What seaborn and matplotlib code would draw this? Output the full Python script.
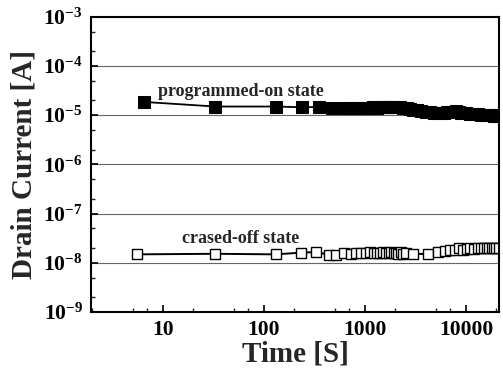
import numpy as np
import pandas as pd
import matplotlib
matplotlib.use("Agg")
import matplotlib.pyplot as plt
import matplotlib.ticker as mticker
import seaborn as sns

# programmed-on state
on_time = [6.5, 33, 130, 240, 350, 470,
           600, 700, 800, 900, 1000, 1100, 1200, 1300, 1400, 1500, 1600, 1700,
           1800, 1900, 2000, 2200, 2400, 2600, 2800, 3000, 3300, 3600, 4000,
           4400, 4800, 5200, 5600, 6000, 6500, 7000, 7500, 8000, 8500, 9000,
           9500, 10000, 11000, 12000, 13000, 14000, 15000, 16000, 17000, 18000,
           19000, 20000, 21000]
on_current = [1.86e-5, 1.5e-5, 1.5e-5, 1.45e-5, 1.47e-5, 1.42e-5,
              1.40e-5, 1.40e-5, 1.41e-5, 1.42e-5, 1.42e-5, 1.43e-5, 1.44e-5, 1.43e-5, 1.44e-5, 1.45e-5, 1.46e-5, 1.46e-5,
              1.47e-5, 1.48e-5, 1.48e-5, 1.47e-5, 1.43e-5, 1.38e-5, 1.33e-5, 1.29e-5, 1.25e-5, 1.21e-5, 1.17e-5,
              1.14e-5, 1.13e-5, 1.12e-5, 1.12e-5, 1.13e-5, 1.15e-5, 1.17e-5, 1.18e-5, 1.19e-5, 1.16e-5, 1.13e-5,
              1.11e-5, 1.10e-5, 1.08e-5, 1.06e-5, 1.04e-5, 1.03e-5, 1.02e-5, 1.01e-5, 1.00e-5, 0.99e-5,
              0.98e-5, 0.96e-5, 0.95e-5]

# erased-off state
off_time = [5.5, 33, 130, 230, 330, 440, 520,
            620, 720, 820, 920, 1020, 1120, 1220, 1320, 1420, 1520, 1620, 1720,
            1820, 1920, 2020, 2120, 2250, 2400, 2550, 3000, 4200, 5300, 6200,
            7000, 7800, 8600, 9400, 10200, 11000, 12000, 13000, 14000, 15000,
            16000, 17000, 18000, 19000, 20000, 21000]
off_current = [1.48e-8, 1.52e-8, 1.48e-8, 1.6e-8, 1.65e-8, 1.45e-8, 1.45e-8,
               1.58e-8, 1.52e-8, 1.55e-8, 1.56e-8, 1.6e-8, 1.62e-8, 1.58e-8, 1.6e-8, 1.56e-8, 1.62e-8, 1.55e-8, 1.58e-8,
               1.62e-8, 1.55e-8, 1.6e-8, 1.52e-8, 1.62e-8, 1.48e-8, 1.58e-8, 1.52e-8, 1.5e-8, 1.68e-8, 1.72e-8,
               1.8e-8, 1.85e-8, 1.95e-8, 1.85e-8, 1.9e-8, 1.95e-8, 1.92e-8, 1.98e-8, 1.95e-8, 2.0e-8,
               1.96e-8, 2.02e-8, 1.98e-8, 2.0e-8, 1.97e-8, 1.95e-8]

x_ticks = [10, 100, 1000, 10000]
x_labels = ["10", "100", "1000", "10000"]
y_ticks = [1e-9, 1e-8, 1e-7, 1e-6, 1e-5, 1e-4, 1e-3]
y_labels = [r"$10^{-9}$", r"$10^{-8}$", r"$10^{-7}$", r"$10^{-6}$",
            r"$10^{-5}$", r"$10^{-4}$", r"$10^{-3}$"]

sns.set_theme(style="ticks")
plt.rcParams["font.family"] = ["Liberation Serif", "DejaVu Serif"]
plt.rcParams["font.weight"] = "bold"
plt.rcParams["mathtext.fontset"] = "custom"
plt.rcParams["mathtext.rm"] = "Liberation Serif:bold"
plt.rcParams["mathtext.it"] = "Liberation Serif:bold"
plt.rcParams["mathtext.bf"] = "Liberation Serif:bold"

fig = plt.figure(figsize=(5.03, 3.74), dpi=100)
ax = fig.add_axes([0.181, 0.166, 0.811, 0.789])

on_df = pd.DataFrame({"time": on_time, "current": on_current})
off_df = pd.DataFrame({"time": off_time, "current": off_current})

sns.lineplot(data=on_df, x="time", y="current", ax=ax, color="black", lw=1.3,
             marker="s", markersize=8.5, markerfacecolor="black",
             markeredgecolor="black", estimator=None, sort=False)
sns.lineplot(data=off_df, x="time", y="current", ax=ax, color="black", lw=1.4,
             marker="s", markersize=6.5, markerfacecolor="white",
             markeredgecolor="black", markeredgewidth=1.0,
             estimator=None, sort=False)

ax.set_xscale("log")
ax.set_yscale("log")
ax.set_xlim(1.94, 21200)
ax.set_ylim(1e-9, 1e-3)

ax.set_xticks(x_ticks)
ax.set_xticklabels(x_labels)
ax.xaxis.set_minor_locator(mticker.LogLocator(base=10, subs=(2, 5, 7)))
ax.xaxis.set_minor_formatter(mticker.NullFormatter())
ax.set_yticks(y_ticks)
ax.set_yticklabels(y_labels)
ax.yaxis.set_minor_locator(mticker.LogLocator(base=10, subs=(2, 5)))
ax.yaxis.set_minor_formatter(mticker.NullFormatter())

ax.tick_params(which="major", direction="in", length=5, width=1.2,
               labelsize=15.5, colors="black", pad=6)
ax.tick_params(which="minor", direction="in", length=3, width=1.0)
ax.tick_params(top=False, right=False, which="both")

ax.grid(axis="y", which="major", color="#666666", lw=0.8)
for s in ax.spines.values():
    s.set_visible(True)
    s.set_linewidth(1.5)
    s.set_color("black")

ax.set_xlabel("Time [S]", fontsize=21, fontweight="bold", labelpad=0)
ax.set_ylabel("Drain Current [A]", fontsize=21, fontweight="bold", labelpad=4)

ax.text(9.0, 2.43e-5, "programmed-on state", fontsize=13, fontweight="bold",
        va="baseline", ha="left")
ax.text(15.3, 2.55e-8, "crased-off state", fontsize=13, fontweight="bold",
        va="baseline", ha="left")

fig.savefig("out.png", dpi=100)
